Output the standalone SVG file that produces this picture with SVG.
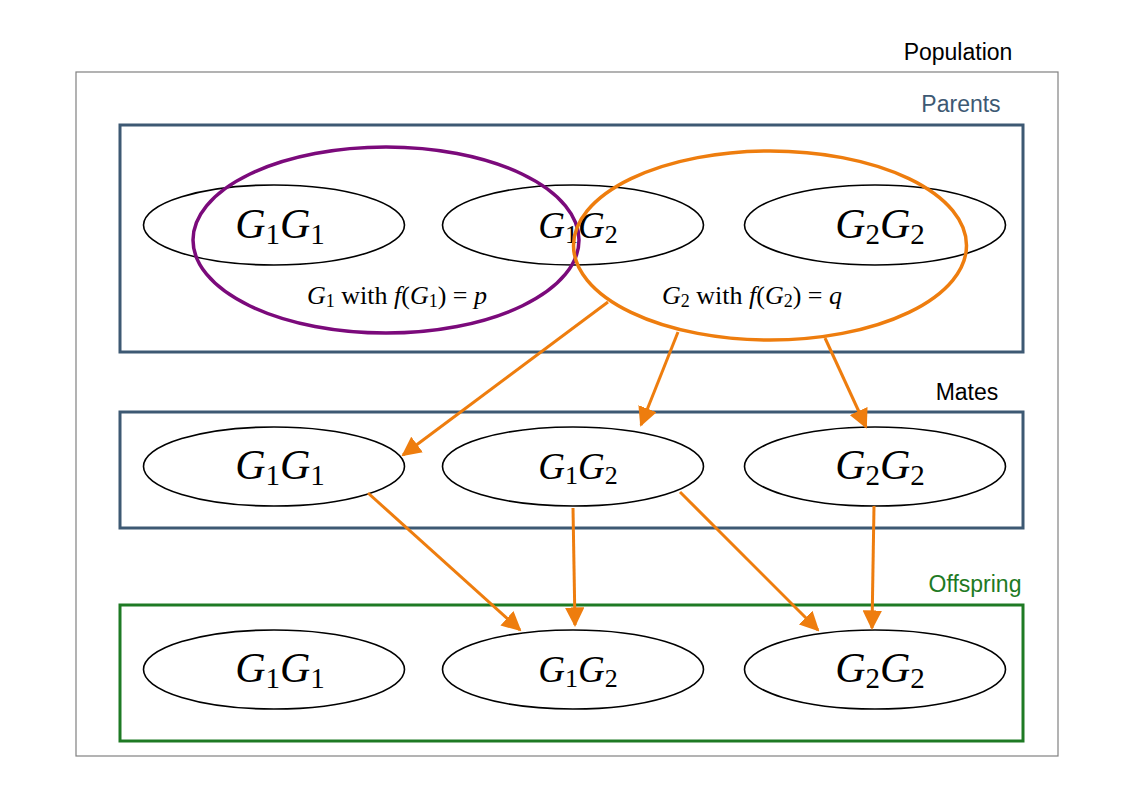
<svg xmlns="http://www.w3.org/2000/svg" width="1123" height="794" viewBox="0 0 1123 794">
<defs>
<style>
.lbl{font-family:"Liberation Sans",Arial,sans-serif;font-size:23px;text-anchor:middle}
.g{fill:#fff;stroke:#000;stroke-width:1.6}
.m{font-family:"Liberation Serif","Times New Roman",serif;text-anchor:middle;fill:#000}
.big{font-size:42px}
.mid{font-size:37px}
.sm{font-size:26px}
.i{font-style:italic}
.box{fill:none;stroke-width:3}
.arr{stroke:#ee7d0e;stroke-width:3;fill:none;marker-end:url(#ah)}
</style>
<marker id="ah" viewBox="0 0 10 10" refX="9" refY="5" markerWidth="6.5" markerHeight="6.5" orient="auto" markerUnits="strokeWidth">
<path d="M0,0 L10,5 L0,10 z" fill="#ee7d0e"/>
</marker>
</defs>
<rect width="1123" height="794" fill="#fff"/>
<g id="population">
<rect x="76" y="72" width="982" height="684" fill="none" stroke="#808080" stroke-width="1.2"/>
<text class="lbl" x="958" y="60" fill="#000">Population</text>
</g>
<g id="parents">
<rect class="box" x="120" y="125" width="903" height="227" stroke="#3d5973"/>
<text class="lbl" x="961" y="112" fill="#3d5973">Parents</text>
</g>
<g id="mates">
<rect class="box" x="120" y="412" width="903" height="116" stroke="#3d5973"/>
<text class="lbl" x="967" y="400" fill="#000">Mates</text>
</g>
<g id="offspring">
<rect class="box" x="120" y="605" width="903" height="136" stroke="#1e7a24"/>
<text class="lbl" x="975" y="592" fill="#1e7a24">Offspring</text>
</g>
<g id="p-g1g1"><ellipse class="g" cx="274" cy="225" rx="130.5" ry="40"/>
<text class="m big" x="280" y="238"><tspan class="i">G</tspan><tspan font-size="29" dy="6">1</tspan><tspan class="i" dy="-6">G</tspan><tspan font-size="29" dy="6">1</tspan></text></g>
<g id="p-g1g2"><ellipse class="g" cx="573" cy="225" rx="130.5" ry="40"/>
<text class="m mid" x="578" y="238"><tspan class="i">G</tspan><tspan font-size="26" dy="5">1</tspan><tspan class="i" dy="-5">G</tspan><tspan font-size="26" dy="5">2</tspan></text></g>
<g id="p-g2g2"><ellipse class="g" cx="875" cy="225" rx="130.5" ry="40"/>
<text class="m big" x="880" y="238"><tspan class="i">G</tspan><tspan font-size="29" dy="6">2</tspan><tspan class="i" dy="-6">G</tspan><tspan font-size="29" dy="6">2</tspan></text></g>
<g id="allele-g1"><ellipse cx="386" cy="240" rx="193" ry="93" fill="none" stroke="#7b0a7b" stroke-width="3.5"/>
<text class="m sm" x="397" y="304"><tspan class="i">G</tspan><tspan font-size="18" dy="3">1</tspan><tspan dy="-3"> with </tspan><tspan class="i">f</tspan><tspan>(</tspan><tspan class="i">G</tspan><tspan font-size="18" dy="3">1</tspan><tspan dy="-3">)  =  </tspan><tspan class="i">p</tspan></text></g>
<g id="allele-g2"><ellipse cx="770" cy="245.5" rx="196.5" ry="94.5" fill="none" stroke="#ee7d0e" stroke-width="3.5"/>
<text class="m sm" x="752" y="304"><tspan class="i">G</tspan><tspan font-size="18" dy="3">2</tspan><tspan dy="-3"> with </tspan><tspan class="i">f</tspan><tspan>(</tspan><tspan class="i">G</tspan><tspan font-size="18" dy="3">2</tspan><tspan dy="-3">)  =  </tspan><tspan class="i">q</tspan></text></g>
<g id="m-g1g1"><ellipse class="g" cx="274" cy="466.5" rx="130.5" ry="39.5"/>
<text class="m big" x="280" y="479"><tspan class="i">G</tspan><tspan font-size="29" dy="6">1</tspan><tspan class="i" dy="-6">G</tspan><tspan font-size="29" dy="6">1</tspan></text></g>
<g id="m-g1g2"><ellipse class="g" cx="573" cy="466.5" rx="130.5" ry="39.5"/>
<text class="m mid" x="578" y="479"><tspan class="i">G</tspan><tspan font-size="26" dy="5">1</tspan><tspan class="i" dy="-5">G</tspan><tspan font-size="26" dy="5">2</tspan></text></g>
<g id="m-g2g2"><ellipse class="g" cx="875" cy="466.5" rx="130.5" ry="39.5"/>
<text class="m big" x="880" y="479"><tspan class="i">G</tspan><tspan font-size="29" dy="6">2</tspan><tspan class="i" dy="-6">G</tspan><tspan font-size="29" dy="6">2</tspan></text></g>
<g id="o-g1g1"><ellipse class="g" cx="274" cy="669.5" rx="130.5" ry="39.5"/>
<text class="m big" x="280" y="682"><tspan class="i">G</tspan><tspan font-size="29" dy="6">1</tspan><tspan class="i" dy="-6">G</tspan><tspan font-size="29" dy="6">1</tspan></text></g>
<g id="o-g1g2"><ellipse class="g" cx="573" cy="669.5" rx="130.5" ry="39.5"/>
<text class="m mid" x="578" y="682"><tspan class="i">G</tspan><tspan font-size="26" dy="5">1</tspan><tspan class="i" dy="-5">G</tspan><tspan font-size="26" dy="5">2</tspan></text></g>
<g id="o-g2g2"><ellipse class="g" cx="875" cy="669.5" rx="130.5" ry="39.5"/>
<text class="m big" x="880" y="682"><tspan class="i">G</tspan><tspan font-size="29" dy="6">2</tspan><tspan class="i" dy="-6">G</tspan><tspan font-size="29" dy="6">2</tspan></text></g>
<g id="connectors">
<line class="arr" x1="608" y1="302" x2="403" y2="455"/>
<line class="arr" x1="678" y1="332" x2="641" y2="425"/>
<line class="arr" x1="825" y1="338" x2="866" y2="427"/>
<line class="arr" x1="368" y1="493" x2="520" y2="630"/>
<line class="arr" x1="573" y1="508" x2="575" y2="625"/>
<line class="arr" x1="680" y1="492" x2="818" y2="630"/>
<line class="arr" x1="874" y1="506" x2="872" y2="628"/>
</g>
</svg>
